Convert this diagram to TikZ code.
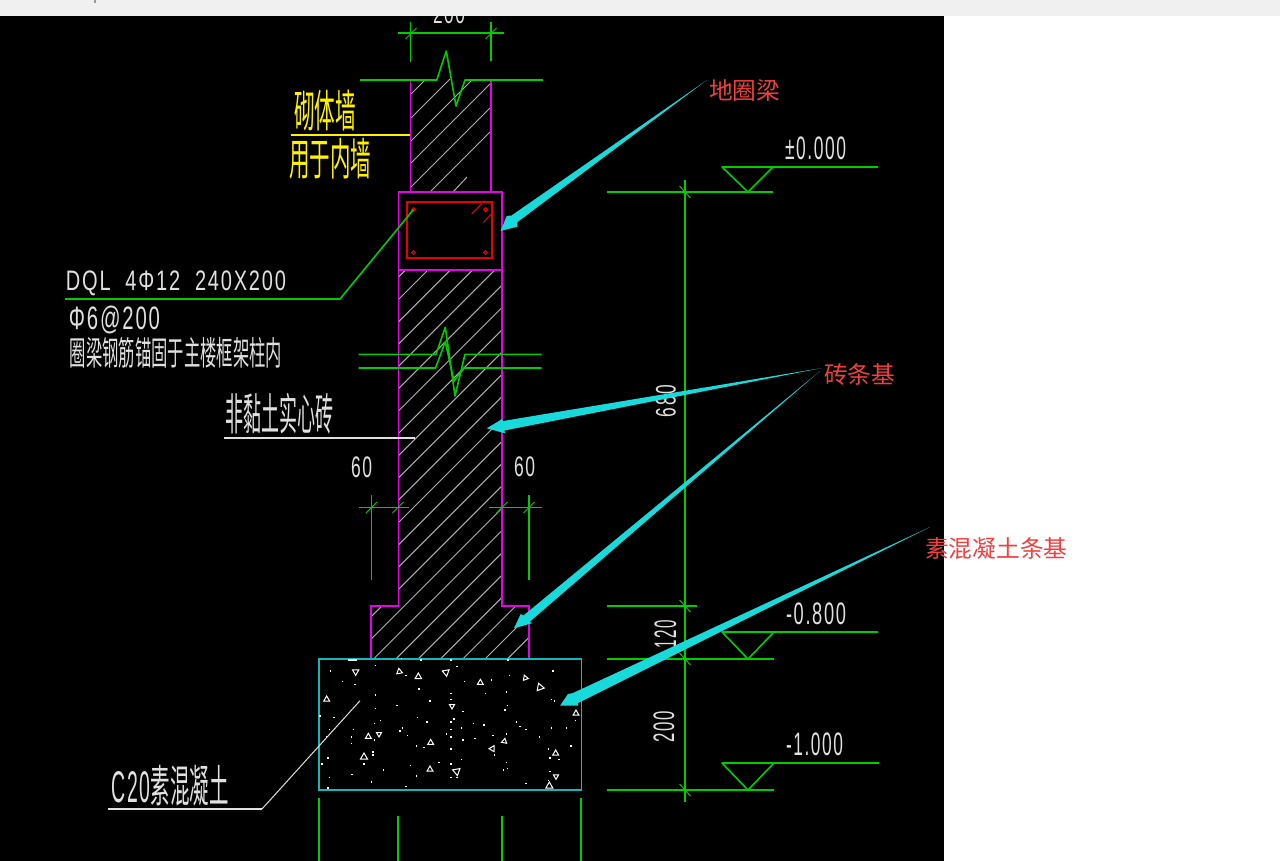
\documentclass[tikz,border=0pt]{standalone}
\usepackage{graphicx}
\usepackage{fontspec}
\setmainfont[LetterSpace=9]{Liberation Sans}
\newfontfamily\cjkf{Noto Sans CJK SC}
\definecolor{cadgreen}{HTML}{00CC00}
\definecolor{cadmag}{HTML}{E800E8}
\definecolor{cadred}{HTML}{E80000}
\definecolor{cadcyan}{HTML}{10B8B8}
\definecolor{cadhatch}{HTML}{B0B0B0}
\definecolor{cadwhite}{HTML}{E0E0E0}
\definecolor{cadarrow}{HTML}{18DADA}
\definecolor{notered}{HTML}{F04040}
\newcommand\fitbox[3]{\resizebox*{#1pt}{#2pt}{#3}}
\tikzset{
  gline/.style={draw=cadgreen,line width=1.6pt},
  gtick/.style={draw=cadgreen,line width=1pt},
  mline/.style={draw=cadmag,line width=1.6pt},
  hatchline/.style={draw=cadhatch,line width=1pt},
  wline/.style={draw=cadwhite,line width=1.5pt},
  cadtext/.style={inner sep=0pt,text=cadwhite},
  yeltext/.style={inner sep=0pt,text=yellow},
  redlabel/.style={inner sep=0pt,text=notered,anchor=west,font=\cjkf\fontsize{23.7}{24}\selectfont},
  pointer/.style={fill=cadarrow,draw=none},
}
\begin{document}
\begin{tikzpicture}[x=1pt,y=-1pt]
\useasboundingbox (0,0) rectangle (1280,861);
\fill[white] (0,0) rectangle (1280,861);
\fill[black] (0,0) rectangle (944,861);

% hatching of the wall above the ring beam
\foreach \s in {505,529,552,574,598,622}{
  \begin{scope}
    \clip (410.5,80) rectangle (491,192);
    \draw[hatchline] (400,\s-400) -- (500,\s-500);
  \end{scope}
}
\draw[hatchline] (453,192) -- (467,177);
% hatching of the brick footing
\begin{scope}
  \clip (398.5,270) -- (502,270) -- (502,606) -- (529,606) -- (529,659) -- (371,659) -- (371,606) -- (398.5,606) -- cycle;
  \foreach \k in {-11,...,13}{
    \pgfmathsetmacro\s{898.7+22.3*\k}
    \draw[hatchline] (300,\s-300) -- (600,\s-600);
  }
\end{scope}

% masonry outlines
\draw[mline] (410.5,80) -- (410.5,192);
\draw[mline] (491,80) -- (491,192);
\draw[mline] (398.5,192) rectangle (502,270);
\draw[mline] (398.5,270) -- (398.5,606) -- (371,606) -- (371,659);
\draw[mline] (502,270) -- (502,606) -- (529,606) -- (529,659);

% ring beam
\draw[cadred,line width=1.6pt] (407,202.3) rectangle (491.7,258.3);
\foreach \x/\y in {413.5/209.5,485.5/209.5,413.5/252.5,485.5/252.5}
  \draw[cadred,line width=1pt] (\x,\y) circle (1.8pt);
\draw[cadred,line width=1pt] (471.7,214) -- (481.7,204);
\draw[cadred,line width=1pt] (483.3,222.7) -- (493.3,211.7);

% concrete base
\draw[cadcyan,line width=1.6pt] (319,659) rectangle (581.5,790);
\draw[white,line width=1.5pt] (348,660) -- (357,660);
\begin{scope}[shift={(310,590)},x=.33333pt,y=-.33333pt]
  \foreach \x/\y in {62/243,98/275,135/284,197/226,197/315,197/355,288/257,327/297,360/333,261/347,30/378,72/383,193/401,211/392,323/383,351/396,130/419,125/441,125/460,193/450,277/414,270/423,292/437,319/468,342/473,409/432,423/396,423/419,423/441,432/387,459/365,423/311,423/329,441/230,463/275,544/270,526/311,598/257,589/306,593/347,585/360,729/243,724/329,733/333,490/401,522/405,454/414,459/450,495/446,549/437,589/432,620/396,630/410,648/419,688/441,724/414,769/414,783/468,797/392,716/477,720/504,747/509,589/518,593/536,580/540,553/495,423/477,454/509,387/518,423/522,423/563,441/563,319/558,301/527,220/540,184/576,126/554,58/563,54/594,36/522,54/504,58/419,50/441,189/486,189/495,162/522,288/590,648/581,720/545,716/572,423/210,333/210,594/210,274/205}
    \fill[white] (\x-2,\y-2) rectangle (\x+2,\y+2);
  \foreach \x/\y/\r/\t in {137/245/90/11,268/245/20/10,325/260/270/11,408/247/200/12,511/278/270/10,646/264/10/9,690/292/250/13,50/328/150/10,426/348/90/9,798/370/30/10,175/440/270/10,207/432/90/9,362/458/270/10,162/501/270/12,547/476/180/10,583/454/40/9,737/490/270/10,360/538/150/10,440/544/200/13,738/559/90/9,718/588/270/12}{
    \draw[white,line width=1pt] ([shift={(\x,\y)}]\r:\t) -- ([shift={(\x,\y)}]\r+120:\t) -- ([shift={(\x,\y)}]\r+240:\t) -- cycle;
  }
\end{scope}

% stubs below the base
\foreach \x/\y in {319/798,398/816,502/816,581/798}
  \draw[gline] (\x,\y) -- (\x,861);

% top width dimension
\draw[gline] (398,33) -- (504,33);
\draw[gline] (410.5,22) -- (410.5,62);
\draw[gline] (491,22) -- (491,61);
\draw[gtick] (405.5,39) -- (416.5,28);
\draw[gtick] (485.5,39) -- (496.5,28);
\node[cadtext] (dimtop) at (449,14.5) {\fitbox{32}{19}{200}};

% break lines
\draw[gline,line join=round] (360,80) -- (436.7,80) -- (446.3,51) -- (456,106) -- (465,80) -- (543,80);
\draw[gline,line join=round] (358.7,354.3) -- (436,354.3) -- (445.3,327.3) -- (455,396) -- (465,354.3) -- (541.7,354.3);
\draw[gline,line join=round] (358.7,368) -- (435.5,368) -- (445.3,341.7) -- (454,381) -- (464,368) -- (541.7,368);

% wall label
\draw[yellow,line width=1.5pt] (291,135) -- (410,135);
\node[yeltext] (wall1) at (325,110.5) {\fitbox{62}{41}{\cjkf 砌体墙}};
\node[yeltext] (wall2) at (330,159) {\fitbox{82}{41}{\cjkf 用于内墙}};

% beam label
\draw[gline] (65,299) -- (340,299) -- (413.5,209.5);
\node[cadtext] (dql) at (176,283) {\fitbox{220}{25}{DQL\ \ 4Φ12\ \ 240X200}};
\node[cadtext] (stir) at (114.5,320) {\fitbox{91}{28}{Φ6@200}};
\node[cadtext] (anch) at (176,352.5) {\fitbox{212}{31}{\cjkf 圈梁钢筋锚固于主楼框架柱内}};

% brick label
\draw[wline] (224,438) -- (415,438);
\node[cadtext] (brick) at (279,414) {\fitbox{108}{41}{\cjkf 非黏土实心砖}};

% 60 dimensions
\node[cadtext] (d60l) at (361.5,467.5) {\fitbox{21}{21}{60}};
\node[cadtext] (d60r) at (524.5,467) {\fitbox{21}{20}{60}};
\draw[gline] (358.7,507.5) -- (409,507.5);
\draw[gline] (371.5,495) -- (371.5,580);
\draw[gtick] (366,513) -- (377,502);
\draw[gtick] (392.5,513) -- (403.5,502);
\draw[gline] (489.3,507.5) -- (541.7,507.5);
\draw[gline] (529,495) -- (529,580);
\draw[gtick] (496.5,513) -- (507.5,502);
\draw[gtick] (523.5,513) -- (534.5,502);

% C20 label
\draw[wline] (108,809) -- (262,809);
\draw[cadwhite,line width=1pt] (262,809) -- (360,700.7);
\node[cadtext] (c20) at (170,785.5) {\fitbox{117}{41}{C20{\cjkf 素混凝土}}};

% elevation dimension chain
\draw[gline] (685,180) -- (685,802);
\foreach \y/\xe in {192/773,606/697,659/774,790/774}{
  \draw[gline] (607,\y) -- (\xe,\y);
  \draw[gtick] (679.5,\y-6) -- (690.5,\y+6);
}
\node[cadtext,rotate=90] (d680) at (666,401) {\fitbox{32}{20}{680}};
\node[cadtext,rotate=90] (d120) at (665.5,634) {\fitbox{28}{22}{120}};
\node[cadtext,rotate=90] (d200) at (664,726.5) {\fitbox{31}{21}{200}};

% elevation marks
\draw[gline,line join=round] (878,167) -- (722,167) -- (748,192) -- (773,167);
\draw[gline,line join=round] (878,632) -- (722,632) -- (748,659) -- (774,632);
\draw[gline,line join=round] (879,763) -- (722,763) -- (748,790) -- (774,763);
\node[cadtext] (e0) at (815.5,148.5) {\fitbox{61}{23}{±0.000}};
\node[cadtext] (e8) at (816,614) {\fitbox{60}{22}{-0.800}};
\node[cadtext] (e1) at (814.5,744.5) {\fitbox{57}{23}{-1.000}};

% annotation pointers
\coordinate (t1) at (707,80);
\coordinate (t2) at (822,368);
\coordinate (t3) at (820,371);
\coordinate (t4) at (930,527);
\fill[pointer] (t1) -- (511.5,215.5) -- (506.7,216) -- (500.5,231) -- (517.3,226.7) -- (517.5,222) -- cycle;
\fill[pointer] (t2) -- (503,421) -- (502.3,419) -- (486.7,428.3) -- (505,433.3) -- (504.5,430.5) -- cycle;
\fill[pointer] (t3) -- (523.5,615.5) -- (520.7,614) -- (514,628.3) -- (531.7,623.3) -- (530,621.5) -- cycle;
\fill[pointer] (t4) -- (573,693) -- (568,694) -- (560,705.7) -- (578,705.7) -- (578,703) -- cycle;
\node[redlabel] (n1) at (709,90) {地圈梁};
\node[redlabel] (n2) at (824,375) {砖条基};
\node[redlabel] (n3) at (925,549) {素混凝土条基};

% window strip
\fill[white!94!black] (0,0) rectangle (1280,16);
\fill[black!40!white] (94,0) rectangle (96,3);
\end{tikzpicture}
\end{document}
